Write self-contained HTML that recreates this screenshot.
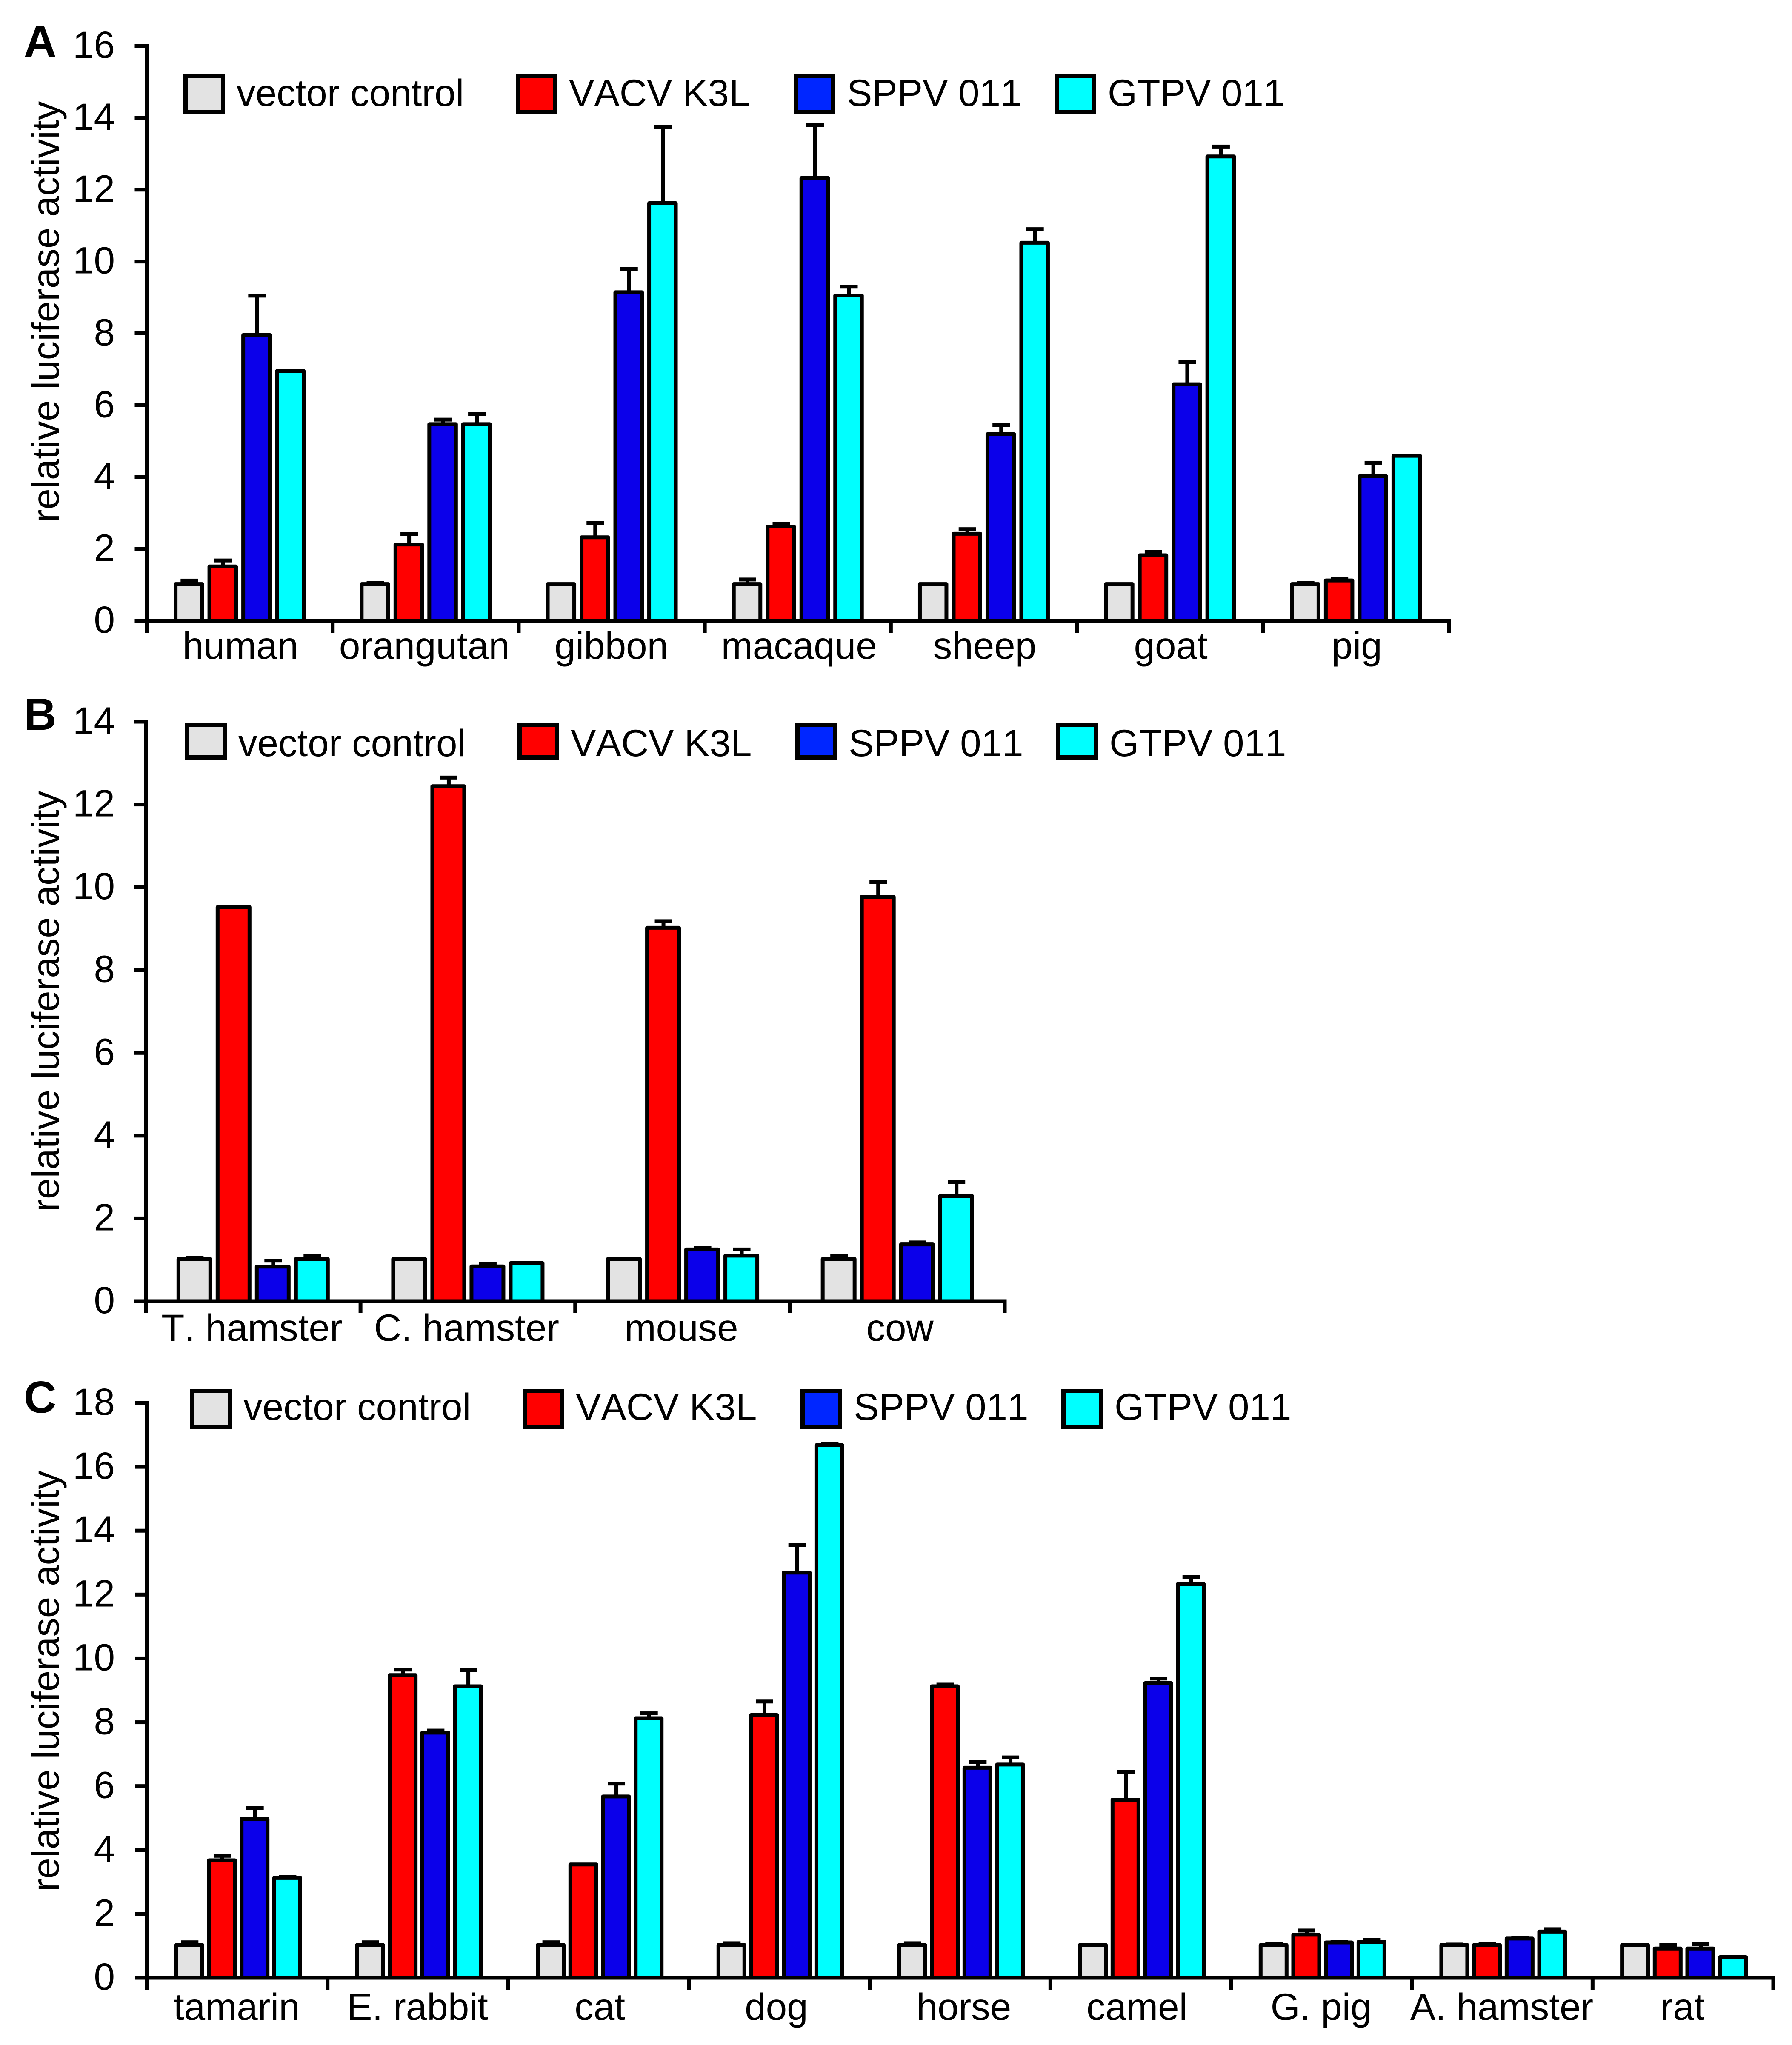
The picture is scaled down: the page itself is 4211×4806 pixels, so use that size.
<!DOCTYPE html>
<html lang="en">
<head>
<meta charset="utf-8">
<title>Relative luciferase activity</title>
<style>
html,body{margin:0;padding:0;background:#fff;}
svg{display:block;}
text{font-family:"Liberation Sans",Arial,sans-serif;fill:#000;font-kerning:none;}
</style>
</head>
<body>
<svg id="chart" xmlns="http://www.w3.org/2000/svg" width="4211" height="4806" viewBox="0 0 4211 4806"></svg>
<script>
// Series names shared by all panels
const seriesNames = ['vector control', 'VACV K3L', 'SPPV 011', 'GTPV 011'];

// Panel A
const catsA = ['human', 'orangutan', 'gibbon', 'macaque', 'sheep', 'goat', 'pig'];
const ticksA = [0, 2, 4, 6, 8, 10, 12, 14, 16];
const vectorA = [1.0, 1.0, 1.0, 1.0, 1.0, 1.0, 1.0];
const vectorErrA = [1.12, 1.05, 1.0, 1.15, 1.0, 1.0, 1.06];
const vacvA = [1.49, 2.1, 2.3, 2.6, 2.4, 1.8, 1.1];
const vacvErrA = [1.68, 2.42, 2.72, 2.7, 2.55, 1.92, 1.16];
const sppvA = [7.93, 5.45, 9.12, 12.3, 5.17, 6.56, 4.0];
const sppvErrA = [9.05, 5.6, 9.8, 13.8, 5.45, 7.2, 4.4];
const gtpvA = [6.93, 5.45, 11.6, 9.03, 10.5, 12.9, 4.57];
const gtpvErrA = [6.93, 5.75, 13.75, 9.3, 10.9, 13.2, 4.57];

// Panel B
const catsB = ['T. hamster', 'C. hamster', 'mouse', 'cow'];
const ticksB = [0, 2, 4, 6, 8, 10, 12, 14];
const vectorB = [1.0, 1.0, 1.0, 1.0];
const vectorErrB = [1.05, 1.0, 1.0, 1.1];
const vacvB = [9.5, 12.42, 9.0, 9.75];
const vacvErrB = [9.5, 12.65, 9.18, 10.12];
const sppvB = [0.815, 0.82, 1.23, 1.35];
const sppvErrB = [0.98, 0.9, 1.29, 1.42];
const gtpvB = [1.0, 0.9, 1.08, 2.52];
const gtpvErrB = [1.09, 0.92, 1.25, 2.88];

// Panel C
const catsC = ['tamarin', 'E. rabbit', 'cat', 'dog', 'horse', 'camel', 'G. pig', 'A. hamster', 'rat'];
const ticksC = [0, 2, 4, 6, 8, 10, 12, 14, 16, 18];
const vectorC = [1.0, 1.0, 1.0, 1.0, 1.0, 1.0, 1.0, 1.0, 1.0];
const vectorErrC = [1.11, 1.11, 1.11, 1.08, 1.08, 1.03, 1.07, 1.04, 1.03];
const vacvC = [3.65, 9.45, 3.52, 8.2, 9.1, 5.55, 1.32, 1.0, 0.89];
const vacvErrC = [3.82, 9.65, 3.52, 8.65, 9.18, 6.45, 1.48, 1.07, 1.03];
const sppvC = [4.95, 7.65, 5.65, 12.66, 6.55, 9.2, 1.08, 1.2, 0.89];
const sppvErrC = [5.32, 7.74, 6.08, 13.55, 6.75, 9.37, 1.12, 1.24, 1.05];
const gtpvC = [3.1, 9.1, 8.1, 16.65, 6.65, 12.3, 1.1, 1.42, 0.62];
const gtpvErrC = [3.16, 9.63, 8.28, 16.72, 6.9, 12.55, 1.19, 1.52, 0.62];

const svg = document.getElementById('chart');
const NS = 'http://www.w3.org/2000/svg';
const SW = 9;
const FS = 89;
const barFill = ['#e3e3e3', '#ff0000', '#0b00ea', '#00ffff'];
const legendFill = ['#e3e3e3', '#ff0000', '#0026ff', '#00ffff'];
const legendOffsets = [0, 781, 1434, 2047];

function mk(parent, tag, props, txt) {
  const el = document.createElementNS(NS, tag);
  for (const k in props) el.setAttribute(k, props[k]);
  if (txt !== undefined) el.textContent = txt;
  parent.appendChild(el);
  return el;
}
function line(parent, x1, y1, x2, y2) {
  return mk(parent, 'rect', {
    x: Math.min(x1, x2) - (x1 === x2 ? SW / 2 : 0),
    y: Math.min(y1, y2) - (y1 === y2 ? SW / 2 : 0),
    width: x1 === x2 ? SW : Math.abs(x2 - x1),
    height: y1 === y2 ? SW : Math.abs(y2 - y1),
    fill: '#000'
  });
}

function drawPanel(p) {
  const g = mk(svg, 'g', {});
  
  

  const maxV = p.ticks[p.ticks.length - 1];
  const yOf = function (v) { return p.y0 - (p.y0 - p.yTop) * v / maxV; };
  const groupW = (p.xEnd - p.x0) / p.cats.length;
  const groupC = function (i) { return p.x0 + groupW * (i + 0.5); };

  // panel letter
  const letter = mk(g, 'text', { x: p.letterX, y: p.letterY, 'font-size': 106, 'font-weight': 'bold' }, p.letter);
  
  

  // y axis title
  const tc = (p.y0 + p.yTop) / 2 + p.titleDy;
  const title = mk(g, 'text', { x: 0, y: 0, 'font-size': FS, 'text-anchor': 'middle', transform: 'translate(138,' + tc + ') rotate(-90)' }, 'relative luciferase activity');
  
  

  // error bars first, bars on top of them
  const barsG = mk(g, 'g', {});
  
  
  for (let s = 0; s < 4; s++) {
    for (let i = 0; i < p.cats.length; i++) {
      const cx = groupC(i) + p.shift + (s - 1.5) * p.pitch;
      const v = p.values[s][i];
      const e = p.errs[s][i];
      if (e > v) {
        const eb = mk(barsG, 'g', {});
        
        
        line(eb, cx + 1, yOf(e), cx + 1, yOf(v));
        mk(eb, 'rect', { x: cx + 1 - 20.5, y: yOf(e) - SW / 2, width: 41, height: SW, fill: '#000' });
      }
    }
  }
  for (let s = 0; s < 4; s++) {
    for (let i = 0; i < p.cats.length; i++) {
      const cx = groupC(i) + p.shift + (s - 1.5) * p.pitch;
      const top = yOf(p.values[s][i]) - 2;
      const w = p.barW - SW;
      const bar = mk(barsG, 'rect', {
        x: cx - w / 2, y: top, width: w, height: p.y0 - top,
        fill: barFill[s], stroke: '#000', 'stroke-width': SW, 'stroke-linejoin': 'round'
      });
      
      
    }
  }

  // axes
  const axes = mk(g, 'g', {});
  
  
  line(axes, p.x0, p.yTop - SW / 2, p.x0, p.y0 + 28);
  line(axes, p.x0 - 28, p.y0, p.xEnd + SW / 2, p.y0);
  p.ticks.forEach(function (t) {
    const y = yOf(t);
    line(axes, p.x0 - 28, y, p.x0, y);
    const lab = mk(g, 'text', { x: 270, y: y + 28, 'font-size': FS, 'text-anchor': 'end' }, String(t));
    
    
  });
  for (let i = 1; i <= p.cats.length; i++) {
    const x = p.x0 + groupW * i;
    line(axes, x, p.y0, x, p.y0 + 28);
  }
  p.cats.forEach(function (c, i) {
    const nudge = p.labelNudge[c] || 0;
    const lab = mk(g, 'text', { x: groupC(i) + p.labelShift + nudge, y: p.labelY, 'font-size': FS, 'text-anchor': 'middle' }, c);
    
    
  });

  // legend
  const leg = mk(g, 'g', {});
  
  
  seriesNames.forEach(function (n, s) {
    const bx = p.legX + legendOffsets[s];
    const entry = mk(leg, 'g', {});
    
    
    mk(entry, 'rect', {
      x: bx + 5, y: p.legTop + 5, width: 88, height: p.legH - 10,
      fill: legendFill[s], stroke: '#000', 'stroke-width': 10
    });
    mk(entry, 'text', { x: bx + 125, y: p.legBase, 'font-size': FS }, n);
  });
}

drawPanel({
  letter: 'A', letterX: 56, letterY: 133,
  x0: 344.5, xEnd: 3405, y0: 1459, yTop: 108, ticks: ticksA, cats: catsA,
  values: [vectorA, vacvA, sppvA, gtpvA], errs: [vectorErrA, vacvErrA, sppvErrA, gtpvErrA],
  pitch: 79.5, barW: 71.5, shift: 0, labelShift: 2, labelY: 1548, titleDy: -51,
  labelNudge: { orangutan: -5, macaque: 1, gibbon: -3 },
  legX: 431, legTop: 174, legH: 95, legBase: 249
});
drawPanel({
  letter: 'B', letterX: 56, letterY: 1715,
  x0: 342.5, xEnd: 2361, y0: 3058, yTop: 1696, ticks: ticksB, cats: catsB,
  values: [vectorB, vacvB, sppvB, gtpvB], errs: [vectorErrB, vacvErrB, sppvErrB, gtpvErrB],
  pitch: 92, barW: 84, shift: 0, labelShift: -3, labelY: 3151, titleDy: -24,
  labelNudge: { cow: 9 },
  legX: 435, legTop: 1698, legH: 87, legBase: 1777
});
drawPanel({
  letter: 'C', letterX: 56, letterY: 3320,
  x0: 345, xEnd: 4167, y0: 4648, yTop: 3297, ticks: ticksC, cats: catsC,
  values: [vectorC, vacvC, sppvC, gtpvC], errs: [vectorErrC, vacvErrC, sppvErrC, gtpvErrC],
  pitch: 76.7, barW: 70, shift: 2.5, labelShift: -1, labelY: 4747, titleDy: -22,
  labelNudge: { cat: 4, dog: -6, horse: 10, camel: -8 },
  legX: 447, legTop: 3264, legH: 94, legBase: 3337
});
</script>
</body>
</html>
